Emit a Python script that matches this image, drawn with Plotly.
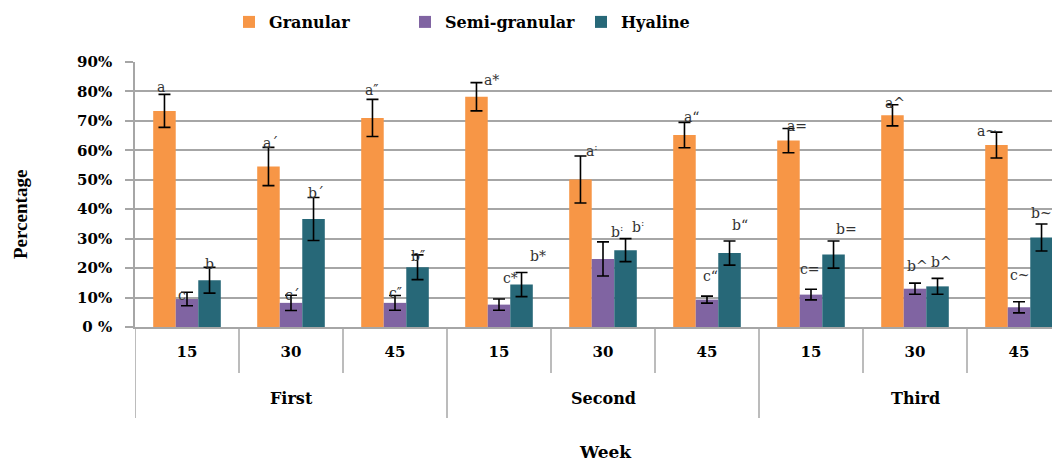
import plotly.graph_objects as go

# ---------------- data ----------------
weeks = ["15", "30", "45", "15", "30", "45", "15", "30", "45"]
groups = ["First", "Second", "Third"]
series_names = ["Granular", "Semi-granular", "Hyaline"]

granular = [73.4, 54.5, 71.0, 78.2, 50.1, 65.2, 63.3, 71.9, 61.8]
granular_err = [5.6, 6.5, 6.3, 4.8, 8.0, 4.3, 4.1, 3.6, 4.4]
semi = [9.5, 8.2, 8.2, 7.6, 23.1, 9.3, 11.0, 13.0, 6.7]
semi_err = [2.3, 2.6, 2.5, 1.9, 5.8, 1.2, 1.8, 1.9, 1.9]
hyaline = [15.9, 36.7, 20.3, 14.4, 26.1, 25.1, 24.6, 13.8, 30.4]
hyaline_err = [4.4, 7.3, 4.2, 4.1, 3.9, 4.1, 4.6, 2.7, 4.6]

granular_lbl = ["a", "a´", "a″", "a*", "a<sup>:</sup>", "a“", "a=", "a^", "a~"]
semi_lbl = ["c", "c´", "c″", "c*", "b<sup>:</sup>", "c“", "c=", "b^", "c~"]
hyaline_lbl = ["b", "b´", "b″", "b*", "b<sup>:</sup>", "b“", "b=", "b^", "b~"]

y_ticks = [0, 10, 20, 30, 40, 50, 60, 70, 80, 90]
y_ticktext = ["0 %", "10%", "20%", "30%", "40%", "50%", "60%", "70%", "80%", "90%"]

# ---------------- style ----------------
colors = ["#F79646", "#8064A2", "#276878"]
# label nudges in pixels (dx right, dy up) relative to error-bar top
label_dx = [
    [-3, 2, 0, 15, 12, 8, 9, 3, -9],
    [-5, 1, 0, 11, 14, 3, -1, 2, 1],
    [0, 2, 0, 16, 12, 10, 13, 4, 0],
]
label_dy = [
    [7, 4, 9, 3, 6, 5, 3, 2, 1],
    [-3, 0, 2, 21, 11, 20, 20, 17, 27],
    [3, 4, -1, 17, 13, 16, 12, 16, 11],
]

SERIF = "DejaVu Serif"
TIMES = "Liberation Serif"
GRID = "#A6A6A6"
PAGE_OFF = 8  # default body margin of the html page

x = list(range(len(weeks)))
vals = [granular, semi, hyaline]
errs = [granular_err, semi_err, hyaline_err]
lbls = [granular_lbl, semi_lbl, hyaline_lbl]

bargap = 0.35
bar_w = (1 - bargap) / 3

fig = go.Figure()
for k in range(3):
    fig.add_trace(go.Bar(
        x=x, y=vals[k], name=series_names[k],
        marker=dict(color=colors[k], line=dict(width=0)),
        error_y=dict(type="data", array=errs[k], visible=True,
                     color="black", thickness=1.6, width=6),
    ))

annotations = []
for k in range(3):
    off = (k - 1) * bar_w
    for i in range(len(x)):
        annotations.append(dict(
            x=x[i] + off, y=vals[k][i] + errs[k][i], xref="x", yref="y",
            text=lbls[k][i], showarrow=False, yanchor="middle", xanchor="center",
            xshift=label_dx[k][i], yshift=label_dy[k][i],
            font=dict(family=SERIF, size=14, color="#333333"),
        ))

# group labels
for g, name in enumerate(groups):
    annotations.append(dict(
        x=g * 3 + 1, y=-0.268, xref="x", yref="paper", text=name,
        showarrow=False, yanchor="middle",
        font=dict(family=SERIF, size=16, color="black", weight="bold"),
    ))
# x title
annotations.append(dict(
    x=(605 - 135) / 925, y=-0.472, xref="paper", yref="paper", text="Week",
    showarrow=False, yanchor="middle",
    font=dict(family=SERIF, size=17, color="black", weight="bold"),
))
# y title
annotations.append(dict(
    x=(20 - 135) / 925, y=0.4226, xref="paper", yref="paper", text="Percentage",
    showarrow=False, textangle=-90, xanchor="center", yanchor="middle",
    font=dict(family=TIMES, size=19, color="black", weight="bold"),
))

# category dividers
shapes = []
for b in range(len(x)):
    is_group = (b % 3 == 0)
    shapes.append(dict(
        type="line", xref="x", yref="paper",
        x0=b - 0.5, x1=b - 0.5, y0=0, y1=-0.343 if is_group else -0.174,
        line=dict(color=GRID, width=1.5),
    ))

fig.update_layout(
    width=1060 - PAGE_OFF, height=462 - PAGE_OFF,
    margin=dict(l=135 - PAGE_OFF, r=0, t=62 - PAGE_OFF, b=135, autoexpand=False),
    paper_bgcolor="white", plot_bgcolor="white",
    barmode="group", bargap=bargap, bargroupgap=0,
    showlegend=True,
    legend=dict(
        orientation="h", x=(249 - 20 - 135) / 925, xanchor="left",
        y=(327 - 22) / 265, yanchor="middle",
        entrywidth=131, entrywidthmode="pixels",
        font=dict(family=SERIF, size=16, color="black", weight="bold"),
        bgcolor="rgba(0,0,0,0)",
    ),
    annotations=annotations,
    shapes=shapes,
    xaxis=dict(
        range=[-0.5, 8.5 - 11 / 104],
        tickmode="array", tickvals=x, ticktext=weeks,
        ticks="", showline=True, linecolor=GRID, linewidth=1.5,
        showgrid=False, zeroline=False,
        ticklabelstandoff=10,
        tickfont=dict(family=SERIF, size=15, color="black", weight="bold"),
    ),
    yaxis=dict(
        range=[0, 90], tickmode="array", tickvals=y_ticks, ticktext=y_ticktext,
        showgrid=True, gridcolor=GRID, gridwidth=1.5,
        showline=True, linecolor=GRID, linewidth=1.5,
        ticks="outside", ticklen=8, tickcolor=GRID, tickwidth=1.5,
        ticklabelstandoff=10,
        zeroline=False,
        tickfont=dict(family=SERIF, size=15, color="black", weight="bold"),
    ),
)

fig.write_html("out.html")
